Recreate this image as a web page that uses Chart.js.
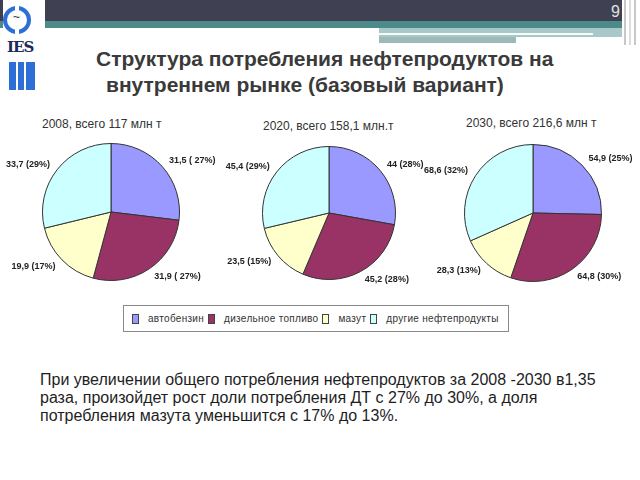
<!DOCTYPE html>
<html>
<head>
<meta charset="utf-8">
<script src="https://cdn.jsdelivr.net/npm/chart.js@4.4.0/dist/chart.umd.min.js"></script>
<style>
  body { margin: 0; width: 640px; height: 480px; position: relative; overflow: hidden; background: #fff; font-family: Arial, "Liberation Sans", sans-serif; }
  .abs { position: absolute; }
  #topbar { left: 0; top: 0; width: 622px; height: 21px; background: #3f4152; }
  #teal { left: 0; top: 21px; width: 622px; height: 7px; background: #4d8a8a; }
  #band1 { left: 379px; top: 28px; width: 243px; height: 9px; background: #a9c8c8; }
  #wline { left: 379px; top: 33px; width: 214px; height: 2px; background: #f4fbfb; }
  #band2 { left: 379px; top: 37px; width: 137px; height: 6px; background: #9db9ba; }
  .vl { top: 0; height: 45px; width: 2px; background: #c8c8c8; }
  #pagenum { left: 611px; top: 3px; color: #e0e0e0; font-size: 16px; }
  #logo { left: 3px; top: 0; width: 42px; height: 95px; background: #fff; }
  #ring { left: 3px; top: 6px; width: 20px; height: 20px; border: 4px solid #2d6fd6; border-radius: 50%; }
  .gap { background: #fff; width: 4px; height: 6px; }
  #ies { left: 7px; top: 38px; font-family: "DejaVu Serif", "Liberation Serif", serif; font-weight: bold; font-size: 15px; color: #1d2a5c; letter-spacing: -1px; }
  .bar { top: 62px; height: 28px; background: #2d6fd6; }
  .title { font-size: 21px; font-weight: bold; color: #3a3a3a; white-space: nowrap; }
  .sub { font-size: 12px; color: #333; white-space: nowrap; }
  canvas { position: absolute; }
  #legend { left: 123px; top: 305px; width: 386px; height: 27px; border: 1px solid #8a8a8a; display: flex; align-items: center; font-size: 10px; letter-spacing: 0.3px; color: #333; box-sizing: border-box; padding-left: 8px; white-space: nowrap; }
  #legend span { flex: none; }
  #legend span.sw { display: inline-block; width: 5px; height: 8px; border: 1px solid #444; margin-right: 9px; }
  #legend span.tx { margin-right: 4px; }
  #note { left: 40px; top: 371px; font-size: 16px; line-height: 18px; color: #1e1e1e; white-space: nowrap; }
</style>
</head>
<body>
<div id="topbar" class="abs"></div>
<div id="teal" class="abs"></div>
<div id="band1" class="abs"></div>
<div id="wline" class="abs"></div>
<div id="band2" class="abs"></div>
<div class="abs vl" style="left:624px"></div>
<div class="abs vl" style="left:629px;background:#dcdcdc"></div>
<div class="abs vl" style="left:634px"></div>
<div id="pagenum" class="abs">9</div>
<div id="logo" class="abs"></div>
<div id="ring" class="abs"></div>
<div class="abs gap" style="left:15px;top:5px"></div>
<div class="abs gap" style="left:15px;top:29px"></div>
<div class="abs" style="left:13px;top:10px;font-size:12px;color:#333">~</div>
<div id="ies" class="abs">IES</div>
<div class="abs bar" style="left:9px;width:7px"></div>
<div class="abs bar" style="left:18px;width:6px"></div>
<div class="abs bar" style="left:26px;width:9px"></div>
<div class="abs title" style="left:96px;top:47px">Структура потребления нефтепродуктов на</div>
<div class="abs title" style="left:106px;top:73px">внутреннем рынке (базовый вариант)</div>

<div class="abs sub" style="left:42px;top:117px">2008, всего 117 млн т</div>
<div class="abs sub" style="left:263px;top:119px">2020, всего 158,1 млн.т</div>
<div class="abs sub" style="left:466px;top:116px">2030, всего 216,6 млн т</div>

<canvas id="pie2008" width="222" height="184" style="left:0;top:120px"></canvas>
<canvas id="pie2020" width="220" height="184" style="left:219px;top:120px"></canvas>
<canvas id="pie2030" width="216" height="184" style="left:424px;top:120px"></canvas>

<div id="legend" class="abs"></div>

<div id="note" class="abs">При увеличении общего потребления нефтепродуктов за 2008 -2030 в1,35<br>раза, произойдет рост доли потребления ДТ с 27% до 30%, а доля<br>потребления мазута уменьшится с 17% до 13%.</div>

<script>
// categories and colours of the slices
const categories = ['автобензин', 'дизельное топливо', 'мазут', 'другие нефтепродукты'];
const colors = ['#9999ff', '#993366', '#ffffcc', '#ccffff'];

// values, млн т
const values2008 = [31.5, 31.9, 19.9, 33.7];
const values2020 = [44, 45.2, 23.5, 45.4];
const values2030 = [54.9, 64.8, 28.3, 68.6];

// labels as written on the slide
const labels2008 = ['31,5 ( 27%)', '31,9 ( 27%)', '19,9 (17%)', '33,7 (29%)'];
const labels2020 = ['44 (28%)', '45,2 (28%)', '23,5 (15%)', '45,4 (29%)'];
const labels2030 = ['54,9 (25%)', '64,8 (30%)', '28,3 (13%)', '68,6 (32%)'];

// draws the value label just outside every slice
const outsideLabels = {
    id: 'outsideLabels',
    afterDatasetsDraw(chart, args, opts) {
        const ctx = chart.ctx;
        const meta = chart.getDatasetMeta(0);
        ctx.save();
        ctx.font = 'bold 9px Arial, "Liberation Sans", sans-serif';
        ctx.fillStyle = '#222';
        ctx.textBaseline = 'middle';
        meta.data.forEach(function (arc, i) {
            const p = arc.getProps(['x', 'y', 'startAngle', 'endAngle', 'outerRadius'], true);
            const mid = (p.startAngle + p.endAngle) / 2;
            const r = p.outerRadius + opts.offset;
            const x = p.x + Math.cos(mid) * r;
            const y = p.y + Math.sin(mid) * r;
            ctx.textAlign = Math.cos(mid) >= 0 ? 'left' : 'right';
            ctx.fillText(opts.texts[i], x, y);
        });
        ctx.restore();
    }
};

function makePie(id, values, texts, pad) {
    return new Chart(document.getElementById(id), {
        type: 'pie',
        data: {
            labels: categories,
            datasets: [{
                data: values,
                backgroundColor: colors,
                borderColor: '#333',
                borderWidth: 1
            }]
        },
        options: {
            responsive: false,
            animation: false,
            layout: { padding: pad },
            plugins: {
                legend: { display: false },
                tooltip: { enabled: false },
                outsideLabels: { texts: texts, offset: 9 }
            }
        },
        plugins: [outsideLabels]
    });
}

makePie('pie2008', values2008, labels2008, { left: 42, right: 42, top: 23, bottom: 23 });
makePie('pie2020', values2020, labels2020, { left: 43, right: 43, top: 26, bottom: 24 });
makePie('pie2030', values2030, labels2030, { left: 40, right: 38, top: 22, bottom: 20 });

// legend row built from the same categories
let legendHtml = '';
categories.forEach(function (c, i) {
    legendHtml += '<span class="sw" style="background:' + colors[i] + '"></span><span class="tx">' + c + '</span>';
});
document.getElementById('legend').innerHTML = legendHtml;
</script>
</body>
</html>
